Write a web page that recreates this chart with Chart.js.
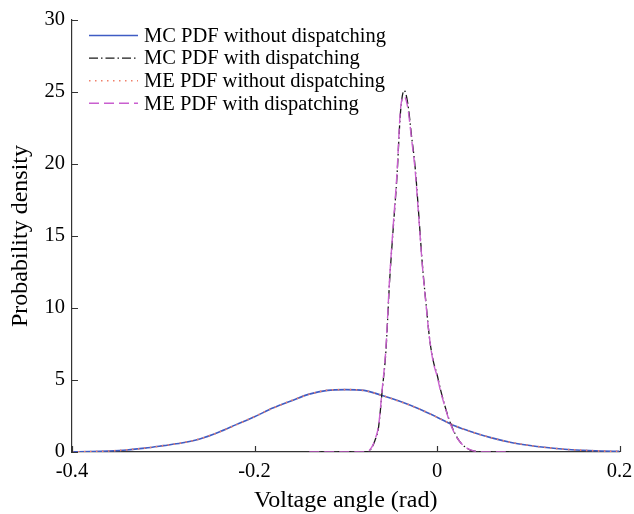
<!DOCTYPE html>
<html lang="en">
<head>
  <meta charset="UTF-8">
  <title>Probability density of voltage angle</title>
  <style>
    html, body { margin: 0; padding: 0; background: #fff; }
    .chart-box { width: 634px; height: 514px; }
  </style>
</head>
<body>
  <div class="chart-box">
    <canvas id="pdf"></canvas>
  </div>
  <script src="https://cdn.jsdelivr.net/npm/chart.js@4.4.1/dist/chart.umd.min.js"></script>
  <script>
    // values
    const seriesNames = ['MC PDF without dispatching', 'MC PDF with dispatching', 'ME PDF without dispatching', 'ME PDF with dispatching'];

    const xWithout = [-0.40, -0.38, -0.36, -0.34, -0.32, -0.30, -0.28, -0.26, -0.24, -0.22, -0.20, -0.18, -0.16, -0.14, -0.12, -0.10,
      -0.08, -0.06, -0.04, -0.02, 0.00, 0.02, 0.04, 0.06, 0.08, 0.10, 0.12, 0.14, 0.16, 0.18, 0.20];
    const mcWithout = [0.01, 0.03, 0.07, 0.14, 0.27, 0.44, 0.62, 0.90, 1.35, 1.90, 2.45, 3.05, 3.55, 4.02, 4.28, 4.33,
      4.28, 3.92, 3.50, 3.00, 2.42, 1.80, 1.36, 0.98, 0.68, 0.47, 0.31, 0.19, 0.12, 0.07, 0.04];
    const meWithout = [0.01, 0.03, 0.07, 0.15, 0.27, 0.44, 0.63, 0.91, 1.35, 1.89, 2.46, 3.04, 3.56, 4.01, 4.29, 4.33,
      4.27, 3.93, 3.49, 3.01, 2.41, 1.81, 1.35, 0.98, 0.68, 0.47, 0.31, 0.19, 0.12, 0.07, 0.04];

    const xWith = [-0.14, -0.12, -0.10, -0.08, -0.076, -0.072, -0.068, -0.064, -0.060, -0.056, -0.052, -0.048, -0.044, -0.040,
      -0.036, -0.032, -0.028, -0.024, -0.020, -0.016, -0.012, -0.008, -0.004, 0.000, 0.004, 0.008, 0.012, 0.016,
      0.020, 0.024, 0.028, 0.032, 0.036, 0.040, 0.044, 0.048, 0.06, 0.08];
    const mcWith = [0, 0, 0, 0, 0.02, 0.25, 0.8, 1.75, 4.3, 7.0, 11.8, 15.5, 19.0, 23.6,
      25.1, 24.2, 22.0, 19.8, 16.5, 13.0, 10.3, 7.8, 6.3, 5.4, 4.3, 3.35, 2.5, 1.8,
      1.25, 0.8, 0.5, 0.3, 0.15, 0.08, 0.03, 0, 0, 0];
    const meWith = [0, 0, 0, 0, 0.03, 0.28, 0.85, 1.85, 4.4, 7.2, 12.0, 15.7, 19.2, 23.8,
      24.7, 23.9, 21.8, 19.6, 16.3, 12.9, 10.2, 7.8, 6.2, 5.3, 4.2, 3.3, 2.45, 1.75,
      1.2, 0.8, 0.5, 0.3, 0.16, 0.08, 0.03, 0, 0, 0];

    const xTicks = [-0.4, -0.2, 0, 0.2];
    const yTicks = [0, 5, 10, 15, 20, 25, 30];

    const serif = '"Liberation Serif", "Times New Roman", serif';
    const toPoints = (xs, ys) => xs.map((x, i) => ({ x: x, y: ys[i] }));

    const styles = [
      { color: '#3f5cc4', dash: [], width: 1.6, order: 4 },
      { color: '#1a1a1a', dash: [9, 3, 1.5, 3], width: 1.3, order: 2 },
      { color: '#f0806a', dash: [1.5, 4.5], width: 1.6, order: 3 },
      { color: '#c95fcf', dash: [10, 5], width: 1.4, order: 1 }
    ];
    const sources = [
      toPoints(xWithout, mcWithout),
      toPoints(xWith, mcWith),
      toPoints(xWithout, meWithout),
      toPoints(xWith, meWith)
    ];

    const datasets = seriesNames.map((name, i) => ({
      label: name,
      data: sources[i],
      borderColor: styles[i].color,
      borderDash: styles[i].dash,
      borderWidth: styles[i].width,
      order: styles[i].order,
      pointRadius: 0,
      fill: false,
      cubicInterpolationMode: 'monotone'
    }));

    // little inward tick marks and the legend in the upper left corner
    const axisDecor = {
      id: 'axisDecor',
      afterDraw(chart) {
        const { ctx, chartArea, scales } = chart;
        ctx.save();
        ctx.strokeStyle = '#333';
        ctx.lineWidth = 1.2;
        ctx.beginPath();
        yTicks.forEach((v) => {
          const y = Math.round(scales.y.getPixelForValue(v)) + 0.5;
          ctx.moveTo(chartArea.left, y);
          ctx.lineTo(chartArea.left + 6, y);
        });
        xTicks.forEach((v) => {
          const x = Math.round(scales.x.getPixelForValue(v)) + 0.5;
          ctx.moveTo(x, chartArea.bottom);
          ctx.lineTo(x, chartArea.bottom - 6);
        });
        ctx.stroke();

        ctx.font = '20.5px ' + serif;
        ctx.textBaseline = 'middle';
        ctx.fillStyle = '#000';
        seriesNames.forEach((name, i) => {
          const y = 35.5 + i * 22.6;
          ctx.beginPath();
          ctx.setLineDash(styles[i].dash);
          ctx.strokeStyle = styles[i].color;
          ctx.lineWidth = styles[i].width;
          ctx.moveTo(89, y);
          ctx.lineTo(138, y);
          ctx.stroke();
          ctx.setLineDash([]);
          ctx.fillText(name, 144, y + 1);
        });
        ctx.restore();
      }
    };

    const noEdgePadding = (scale) => {
      scale.paddingLeft = 0;
      scale.paddingRight = 0;
      scale.paddingTop = 0;
      scale.paddingBottom = 0;
    };

    new Chart(document.querySelector('#pdf').getContext('2d'), {
      type: 'line',
      data: { datasets: datasets },
      options: {
        responsive: true,
        maintainAspectRatio: false,
        animation: false,
        layout: { padding: { top: 20, right: 14.5, bottom: 0, left: 0 } },
        plugins: {
          legend: { display: false },
          tooltip: { enabled: false }
        },
        scales: {
          x: {
            type: 'linear',
            min: -0.4,
            max: 0.2,
            afterFit: (scale) => { scale.height = 62; noEdgePadding(scale); },
            afterBuildTicks: (scale) => { scale.ticks = xTicks.map((v) => ({ value: v })); },
            ticks: {
              padding: 7,
              color: '#000',
              font: { family: serif, size: 20.5 },
              callback: (v) => String(Number(v.toFixed(1)))
            },
            grid: { display: false, drawTicks: false },
            border: { display: true, color: '#333', width: 1.2 },
            title: {
              display: true,
              text: 'Voltage angle (rad)',
              color: '#000',
              font: { family: serif, size: 24, lineHeight: 1 },
              padding: { top: 0, bottom: 1 }
            }
          },
          y: {
            min: 0,
            max: 30,
            afterFit: (scale) => { scale.width = 72; noEdgePadding(scale); },
            afterBuildTicks: (scale) => { scale.ticks = yTicks.map((v) => ({ value: v })); },
            ticks: {
              padding: 7,
              color: '#000',
              font: { family: serif, size: 20.5 }
            },
            grid: { display: false, drawTicks: false },
            border: { display: true, color: '#333', width: 1.2 },
            title: {
              display: true,
              text: 'Probability density',
              color: '#000',
              font: { family: serif, size: 24, lineHeight: 1 },
              padding: { top: 8.5, bottom: 0 }
            }
          }
        }
      },
      plugins: [axisDecor]
    });
  </script>
</body>
</html>
